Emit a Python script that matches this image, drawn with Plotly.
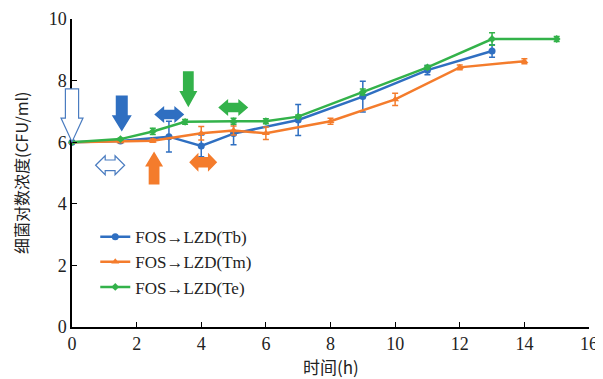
import plotly.graph_objects as go

# ---- data ----
tb_x = [0, 1.5, 3, 4, 5, 7, 9, 11, 13]
tb_y = [6.0, 6.04, 6.18, 5.88, 6.28, 6.72, 7.48, 8.34, 8.96]
tb_err = [0, 0.03, 0.5, 0.35, 0.36, 0.5, 0.5, 0.15, 0.2]

tm_x = [0, 1.5, 2.5, 4, 5, 6, 8, 10, 12, 14]
tm_y = [6.0, 6.02, 6.05, 6.29, 6.38, 6.29, 6.68, 7.39, 8.43, 8.63]
tm_err = [0, 0.03, 0.05, 0.22, 0.15, 0.2, 0.1, 0.2, 0.08, 0.08]

te_x = [0, 1.5, 2.5, 3.5, 5, 6, 7, 9, 11, 13, 15]
te_y = [6.0, 6.1, 6.35, 6.66, 6.68, 6.68, 6.83, 7.63, 8.43, 9.35, 9.35]
te_err = [0, 0.03, 0.1, 0.08, 0.1, 0.08, 0.05, 0.1, 0.06, 0.2, 0.08]

names = ["FOS→LZD(Tb)", "FOS→LZD(Tm)", "FOS→LZD(Te)"]
colors = ["#2f6fc1", "#f47c2c", "#33b24a"]
x_ticks = list(range(0, 17, 2))
y_ticks = list(range(0, 11, 2))
x_title = "时间(h)"
y_title = "细菌对数浓度(CFU/ml)"

# arrow markers: (x, y in data units, kind, length px, width px, color, hollow)
arrows = [
    (0.0, 6.87, "down", 53, 22, "#4a7cc0", True),
    (1.18, 5.25, "double", 29, 19, "#4a7cc0", True),
    (1.54, 6.93, "down", 36, 20, "#2f6fc1", False),
    (3.01, 6.9, "double", 30, 17, "#2f6fc1", False),
    (3.6, 7.72, "down", 36, 18, "#33b24a", False),
    (4.99, 7.13, "double", 30, 17, "#33b24a", False),
    (2.54, 5.16, "up", 33, 18, "#f47c2c", False),
    (4.06, 5.35, "double", 28, 19, "#f47c2c", False),
]

X_MAX, Y_MAX = 16, 10
OFF = 8  # page body margin
W, H = 603 - OFF, 379 - OFF
ML, MR, MT, MB = 72 - OFF, 14, 19 - OFF, 52
PW, PH = W - ML - MR, H - MT - MB

fig = go.Figure()
markers = [dict(symbol="circle", size=7), dict(symbol="triangle-up", size=7), dict(symbol="diamond", size=6)]
for xs, ys, es, nm, col, mk in [(tb_x, tb_y, tb_err, names[0], colors[0], markers[0]),
                                (tm_x, tm_y, tm_err, names[1], colors[1], markers[1]),
                                (te_x, te_y, te_err, names[2], colors[2], markers[2])]:
    fig.add_trace(go.Scatter(
        x=xs, y=ys, name=nm, mode="lines+markers",
        line=dict(color=col, width=2.5),
        marker=dict(color=col, **mk),
        error_y=dict(type="data", array=es, visible=True, color=col, thickness=1.5, width=3),
        cliponaxis=False,
    ))


def arrow_path(cx, cy, kind, L, Wd):
    if kind in ("down", "up"):
        sw, hw, hl = Wd * 0.3, Wd / 2, L * 0.45
        pts = [(-sw, L / 2), (sw, L / 2), (sw, -L / 2 + hl), (hw, -L / 2 + hl), (0, -L / 2),
               (-hw, -L / 2 + hl), (-sw, -L / 2 + hl)]
        if kind == "up":
            pts = [(dx, -dy) for dx, dy in pts]
    else:
        hl, sw, hw = L * 0.33, Wd * 0.28, Wd / 2
        pts = [(-L / 2, 0), (-L / 2 + hl, hw), (-L / 2 + hl, sw), (L / 2 - hl, sw), (L / 2 - hl, hw),
               (L / 2, 0), (L / 2 - hl, -hw), (L / 2 - hl, -sw), (-L / 2 + hl, -sw), (-L / 2 + hl, -hw)]
    px0, py0 = cx / X_MAX, cy / Y_MAX
    s = ""
    for i, (dx, dy) in enumerate(pts):
        s += ("M" if i == 0 else "L") + f"{px0 + dx / PW:.5f},{py0 + dy / PH:.5f} "
    return s + "Z"


for cx, cy, kind, L, Wd, col, hollow in arrows:
    fig.add_shape(type="path", xref="paper", yref="paper", path=arrow_path(cx, cy, kind, L, Wd),
                  fillcolor="white" if hollow else col,
                  line=dict(color=col, width=1.2 if hollow else 0), layer="above")

font_serif = "Liberation Serif, Times New Roman, serif"
cjk_font = "Noto Sans CJK SC, " + font_serif
fig.add_annotation(text=x_title, xref="paper", yref="paper", x=0.5, y=-39 / PH, xanchor="center",
                   yanchor="middle", showarrow=False, font=dict(family=cjk_font, size=17, color="#222"))
fig.add_annotation(text=y_title, xref="paper", yref="paper", x=-51 / PW, y=0.5, xanchor="center",
                   yanchor="middle", textangle=-90, showarrow=False,
                   font=dict(family=cjk_font, size=16, color="#222"))

fig.update_layout(
    width=W, height=H,
    margin=dict(l=ML, r=MR, t=MT, b=MB, autoexpand=False),
    paper_bgcolor="white", plot_bgcolor="white",
    font=dict(family=font_serif, size=18, color="#222"),
    showlegend=True,
    legend=dict(x=0.045, y=0.35, xanchor="left", yanchor="top", bgcolor="rgba(0,0,0,0)",
                font=dict(family=font_serif, size=17), tracegroupgap=0, itemwidth=30),
    xaxis=dict(range=[0, X_MAX], tickvals=x_ticks, showgrid=False, zeroline=False, automargin=False,
               showline=True, linecolor="black", linewidth=1.5, ticks="inside", ticklen=5,
               tickcolor="black"),
    yaxis=dict(range=[0, Y_MAX], tickvals=y_ticks, showgrid=False, zeroline=False, automargin=False,
               showline=True, linecolor="black", linewidth=1.5, ticks="inside", ticklen=5,
               tickcolor="black"),
)

fig.write_html("out.html")
